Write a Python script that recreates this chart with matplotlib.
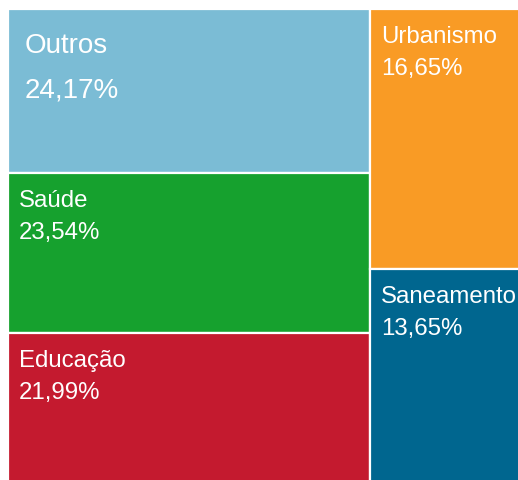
import matplotlib
matplotlib.use('Agg')
import matplotlib.pyplot as plt

# data: two columns of the treemap
left_names = ['Outros', 'Saúde', 'Educação']
left_values = [24.17, 23.54, 21.99]
left_colors = ['#7BBCD5', '#16A12E', '#C41A2F']

right_names = ['Urbanismo', 'Saneamento']
right_values = [16.65, 13.65]
right_colors = ['#F99B25', '#00668F']

plt.rcParams['font.family'] = ['Liberation Sans', 'DejaVu Sans']

fig = plt.figure(figsize=(5.18, 4.80), dpi=100)
ax = fig.add_axes([8 / 518, -2 / 480, 519 / 518, 473 / 480])
total = sum(left_values) + sum(right_values)
ax.set_xlim(0, total)
ax.set_ylim(100, 0)
ax.axis('off')


def draw_column(x0, names, values, colors):
    width = sum(values)
    bottom = 0
    for name, val, col in zip(names, values, colors):
        h = val / width * 100
        ax.bar(x0, h, bottom=bottom, width=width, align='edge',
               color=col, edgecolor='white', linewidth=1.6)
        label = f'{val:.2f}%'.replace('.', ',')
        if name == 'Outros':
            dx, dy1, dy2, fs = 17, -24, -69, 20
        else:
            dx, dy1, dy2, fs = 11, -17, -49, 17.3
        ax.annotate(name, (x0, bottom), xytext=(dx, dy1), textcoords='offset pixels',
                    ha='left', va='top', color='white', fontsize=fs)
        ax.annotate(label, (x0, bottom), xytext=(dx, dy2), textcoords='offset pixels',
                    ha='left', va='top', color='white', fontsize=fs)
        bottom += h
    return x0 + width


x_next = draw_column(0, left_names, left_values, left_colors)
draw_column(x_next, right_names, right_values, right_colors)

fig.savefig('out.png', dpi=100, facecolor='white')
